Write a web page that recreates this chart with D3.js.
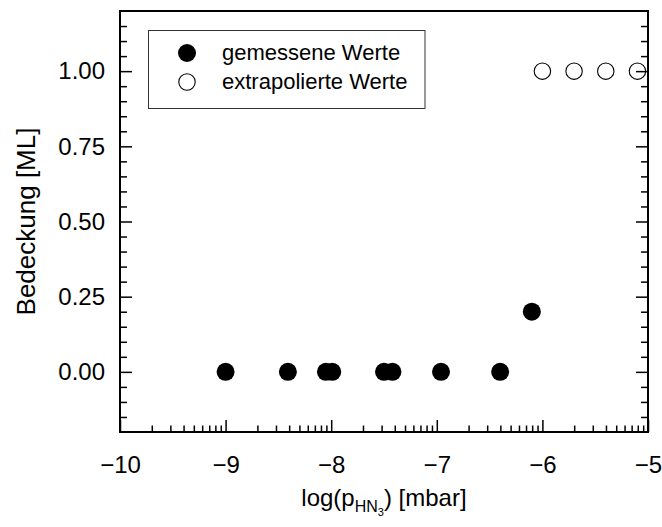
<!DOCTYPE html>
<html><head><meta charset="utf-8">
<script src="https://cdn.jsdelivr.net/npm/d3@7"></script>
<style>body{margin:0;background:#fff}svg{display:block;font-family:"Liberation Sans",Arial,sans-serif}</style>
</head><body><svg id="c" width="662" height="527"></svg>
<script>
const measuredX = [-9.0, -8.41, -8.05, -7.99, -7.50, -7.42, -6.96, -6.40, -6.10];
const measuredY = [0, 0, 0, 0, 0, 0, 0, 0, 0.20];
const extrapX = [-6.0, -5.7, -5.4, -5.1];
const extrapY = [1, 1, 1, 1];
const xTicks = [-10, -9, -8, -7, -6, -5];
const yTicks = [0, 0.25, 0.5, 0.75, 1.0];
const legendLabels = ["gemessene Werte", "extrapolierte Werte"];

const svg = d3.select("#c");
const L = 120, R = 648, T = 11, B = 432;
const x = d3.scaleLinear().domain([-10, -5]).range([L, R]);
const y = d3.scaleLinear().domain([-0.2, 1.2]).range([B, T]);
const FONT = "Liberation Sans, Arial, sans-serif";
const fs = 24;

const xMinor = [];
for (let d = -10; d < -5; d++) for (let k = 2; k <= 9; k++) xMinor.push(d + Math.log10(k));
const yMinor = d3.range(-0.15, 1.2, 0.05).filter(v => Math.abs(v / 0.25 - Math.round(v / 0.25)) > 1e-6);

function styleAxis(g) {
  g.select(".domain").remove();
  g.style("font-size", fs + "px").style("font-family", FONT);
  g.selectAll("line").attr("stroke", "#000").attr("stroke-width", 1.5);
  g.selectAll("text").attr("fill", "#000").style("font-size", fs + "px").style("font-family", FONT);
}

const gB = svg.append("g").attr("transform", `translate(0,${B})`)
  .call(d3.axisBottom(x).tickValues(xTicks).tickSize(-12).tickSizeOuter(0).tickPadding(24).tickFormat(d3.format("d")));
styleAxis(gB);
const gBm = svg.append("g").attr("transform", `translate(0,${B})`)
  .call(d3.axisBottom(x).tickValues(xMinor).tickSize(-6.5).tickFormat(""));
styleAxis(gBm);

const gL = svg.append("g").attr("transform", `translate(${L},0)`)
  .call(d3.axisLeft(y).tickValues(yTicks).tickSize(-12).tickPadding(15).tickFormat(d3.format(".2f")));
styleAxis(gL);
const gLm = svg.append("g").attr("transform", `translate(${L},0)`)
  .call(d3.axisLeft(y).tickValues(yMinor).tickSize(-7).tickFormat(""));
styleAxis(gLm);

const gR = svg.append("g").attr("transform", `translate(${R},0)`)
  .call(d3.axisRight(y).tickValues(yTicks).tickSize(-12).tickFormat(""));
styleAxis(gR);
const gRm = svg.append("g").attr("transform", `translate(${R},0)`)
  .call(d3.axisRight(y).tickValues(yMinor).tickSize(-7).tickFormat(""));
styleAxis(gRm);

svg.append("rect").attr("x", L).attr("y", T).attr("width", R - L).attr("height", B - T)
  .attr("fill", "none").attr("stroke", "#000").attr("stroke-width", 2);

const gD = svg.append("g");
gD.selectAll("circle.m").data(measuredX.map((v, i) => [v, measuredY[i]])).join("circle")
  .attr("class", "m").attr("cx", d => x(d[0])).attr("cy", d => y(d[1])).attr("r", 9).attr("fill", "#000");
gD.selectAll("circle.e").data(extrapX.map((v, i) => [v, extrapY[i]])).join("circle")
  .attr("class", "e").attr("cx", d => x(d[0])).attr("cy", d => y(d[1])).attr("r", 8.2)
  .attr("fill", "none").attr("stroke", "#000").attr("stroke-width", 1.1);

// legend
svg.append("rect").attr("x", 148.5).attr("y", 30.5).attr("width", 276.5).attr("height", 78)
  .attr("fill", "#fff").attr("stroke", "#333").attr("stroke-width", 1);
svg.append("circle").attr("cx", 187).attr("cy", 53).attr("r", 9).attr("fill", "#000");
svg.append("circle").attr("cx", 187).attr("cy", 82).attr("r", 8.2).attr("fill", "none").attr("stroke", "#000").attr("stroke-width", 1.1);
legendLabels.forEach((t, i) => {
  svg.append("text").attr("x", 222).attr("y", 60 + i * 29).style("font-size", "22px").style("font-family", FONT)
    .attr("fill", "#000").text(t);
});

// axis titles
svg.append("text").attr("transform", `translate(35,${(T + B) / 2}) rotate(-90)`).attr("text-anchor", "middle")
  .style("font-size", "26px").style("font-family", FONT).attr("fill", "#000").text("Bedeckung [ML]");
const xt = svg.append("text").attr("x", 384).attr("y", 506).attr("text-anchor", "middle")
  .style("font-size", "24px").style("font-family", FONT).attr("fill", "#000");
xt.append("tspan").text("log(p");
xt.append("tspan").style("font-size", "16px").attr("dy", 6).text("HN");
xt.append("tspan").style("font-size", "11px").attr("dy", 4).text("3");
xt.append("tspan").style("font-size", "24px").attr("dy", -10).text(") [mbar]");
</script></body></html>
